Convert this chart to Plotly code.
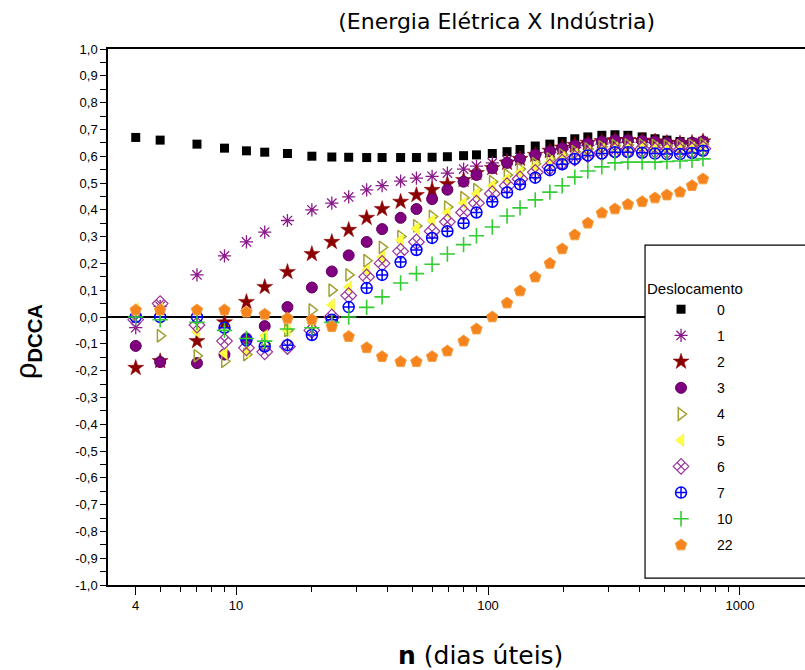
import plotly.graph_objects as go

n_values = [4, 5, 7, 9, 11, 13, 16, 20, 24, 28, 33, 38, 45, 52, 60, 69, 80, 90, 104, 119,
            134, 154, 176, 197, 221, 249, 283, 319, 359, 409, 460, 513, 578, 645, 713]

shift_labels = ["0", "1", "2", "3", "4", "5", "6", "7", "10", "22"]

rho_0 = [0.67, 0.66, 0.645, 0.63, 0.62, 0.615, 0.61, 0.60, 0.597, 0.596, 0.595, 0.595, 0.595, 0.595,
         0.596, 0.598, 0.602, 0.605, 0.61, 0.617, 0.625, 0.638, 0.645, 0.655, 0.665, 0.672, 0.678,
         0.68, 0.678, 0.672, 0.665, 0.66, 0.655, 0.652, 0.655]
rho_1 = [-0.04, 0.04, 0.157, 0.228, 0.28, 0.317, 0.36, 0.40, 0.425, 0.448, 0.474, 0.49, 0.507, 0.518,
         0.525, 0.537, 0.552, 0.563, 0.575, 0.585, 0.595, 0.605, 0.615, 0.625, 0.632, 0.64, 0.645,
         0.65, 0.652, 0.652, 0.65, 0.648, 0.648, 0.65, 0.655]
rho_2 = [-0.19, -0.165, -0.09, -0.02, 0.056, 0.112, 0.168, 0.235, 0.28, 0.325, 0.37, 0.403, 0.43, 0.455,
         0.474, 0.496, 0.511, 0.537, 0.556, 0.575, 0.59, 0.605, 0.62, 0.632, 0.642, 0.65, 0.656,
         0.66, 0.66, 0.658, 0.655, 0.65, 0.648, 0.65, 0.655]
rho_3 = [-0.108, -0.168, -0.172, -0.14, -0.08, -0.034, 0.037, 0.11, 0.17, 0.23, 0.28, 0.328, 0.37, 0.403,
         0.44, 0.475, 0.505, 0.53, 0.555, 0.575, 0.59, 0.605, 0.618, 0.63, 0.64, 0.648, 0.655,
         0.66, 0.66, 0.658, 0.655, 0.65, 0.648, 0.65, 0.655]
rho_4 = [0.01, -0.07, -0.145, -0.165, -0.14, -0.1, -0.05, 0.026, 0.1, 0.157, 0.21, 0.26, 0.30, 0.34,
         0.375, 0.41, 0.445, 0.475, 0.505, 0.53, 0.552, 0.572, 0.59, 0.605, 0.617, 0.627, 0.635,
         0.64, 0.642, 0.642, 0.64, 0.638, 0.638, 0.64, 0.645]
rho_5 = [0.03, 0.03, -0.055, -0.135, -0.13, -0.07, -0.05, -0.02, 0.045, 0.112, 0.175, 0.224, 0.287, 0.33,
         0.36, 0.39, 0.425, 0.46, 0.49, 0.515, 0.54, 0.562, 0.58, 0.595, 0.607, 0.617, 0.625,
         0.63, 0.632, 0.632, 0.63, 0.628, 0.628, 0.63, 0.635]
rho_6 = [-0.01, 0.05, -0.03, -0.09, -0.115, -0.13, -0.11, -0.05, 0.0, 0.08, 0.15, 0.2, 0.245, 0.28,
         0.32, 0.355, 0.39, 0.425, 0.46, 0.49, 0.515, 0.54, 0.56, 0.578, 0.593, 0.605, 0.613,
         0.62, 0.623, 0.625, 0.622, 0.62, 0.62, 0.622, 0.628]
rho_7 = [0.0, 0.0, 0.0, -0.04, -0.086, -0.11, -0.105, -0.067, -0.01, 0.037, 0.108, 0.157, 0.205, 0.25,
         0.295, 0.32, 0.35, 0.39, 0.43, 0.465, 0.495, 0.52, 0.548, 0.57, 0.59, 0.603, 0.61,
         0.615, 0.615, 0.613, 0.61, 0.608, 0.608, 0.612, 0.62]
rho_10 = [0.0, -0.01, -0.02, -0.05, -0.08, -0.09, -0.045, -0.04, -0.02, 0.0, 0.036, 0.075, 0.127, 0.162,
          0.197, 0.235, 0.27, 0.303, 0.336, 0.377, 0.407, 0.437, 0.466, 0.49, 0.522, 0.545, 0.56,
          0.575, 0.578, 0.578, 0.578, 0.58, 0.582, 0.585, 0.59]
rho_22 = [0.026, 0.026, 0.026, 0.026, 0.018, 0.01, -0.005, -0.01, -0.036, -0.073, -0.115, -0.148, -0.167,
          -0.167, -0.148, -0.127, -0.09, -0.045, 0.0, 0.052, 0.097, 0.149, 0.20, 0.254, 0.306, 0.35,
          0.388, 0.403, 0.42, 0.43, 0.444, 0.455, 0.466, 0.49, 0.515]

series = [rho_0, rho_1, rho_2, rho_3, rho_4, rho_5, rho_6, rho_7, rho_10, rho_22]

y_tick_vals = [1.0, 0.9, 0.8, 0.7, 0.6, 0.5, 0.4, 0.3, 0.2, 0.1, 0.0, -0.1, -0.2, -0.3, -0.4, -0.5,
               -0.6, -0.7, -0.8, -0.9, -1.0]
y_tick_text = ["1,0", "0,9", "0,8", "0,7", "0,6", "0,5", "0,4", "0,3", "0,2", "0,1", "0,0", "-0,1",
               "-0,2", "-0,3", "-0,4", "-0,5", "-0,6", "-0,7", "-0,8", "-0,9", "-1,0"]
x_tick_vals = [4, 10, 100, 1000]
x_tick_text = ["4", "10", "100", "1000"]

title_text = "(Energia Elétrica X Indústria)"
x_title_text = "<b>n</b> (dias úteis)"
y_title_text = "ρ<sub><b>DCCA</b></sub>"
legend_title_text = "Deslocamento"

styles = [
    dict(symbol="square", color="#000000", line=dict(width=0), size=9),
    dict(symbol="asterisk-open", color="#8B1A8B", line=dict(width=1.3, color="#8B1A8B"), size=11),
    dict(symbol="star", color="#8B0000", line=dict(width=0.5, color="#8B0000"), size=12),
    dict(symbol="circle", color="#800080", line=dict(width=1, color="#600060"), size=11),
    dict(symbol="triangle-right-open", color="#A0A030", line=dict(width=1.5, color="#A0A030"), size=11),
    dict(symbol="triangle-left", color="#FFFF40", line=dict(width=0.5, color="#E8E840"), size=11),
    dict(symbol="diamond-x-open", color="#993399", line=dict(width=1.2, color="#993399"), size=12),
    dict(symbol="circle-cross-open", color="#0000FF", line=dict(width=1.5, color="#0000FF"), size=11),
    dict(symbol="cross-thin-open", color="#33CC33", line=dict(width=1.6, color="#33CC33"), size=11),
    dict(symbol="pentagon", color="#F5841F", line=dict(width=1, color="#F5A040"), size=12),
]

font_family = "Arial, Liberation Sans, sans-serif"
wide_family = "DejaVu Sans, Arial, sans-serif"

fig = go.Figure()
for i, (lab, vals, st) in enumerate(zip(shift_labels, series, styles)):
    fig.add_trace(go.Scatter(
        x=n_values, y=vals, mode="markers", name=lab, legendgroup=str(i),
        marker=dict(symbol=st["symbol"], color=st["color"], size=st["size"], line=st["line"]),
    ))

fig.update_layout(
    width=805, height=670,
    margin=dict(l=108, r=0, t=49, b=85),
    paper_bgcolor="white", plot_bgcolor="white",
    font=dict(family=font_family, color="#000000", size=13),
    title=dict(text=title_text, x=0.617, xref="container", xanchor="center",
               y=0.968, yref="container", yanchor="middle",
               font=dict(size=22, family=wide_family, color="#000000")),
    showlegend=True,
    legend=dict(
        x=0.7705, y=0.580, xanchor="left", yanchor="top",
        bgcolor="rgba(0,0,0,0)", borderwidth=0,
        font=dict(size=14, family=font_family, color="#000000"),
        title=dict(text=legend_title_text, font=dict(size=15, family=font_family, color="#000000")),
        tracegroupgap=5, itemsizing="trace", itemwidth=62,
    ),
    shapes=[dict(type="rect", xref="paper", yref="paper", x0=0.7705, x1=1.05, y0=0.013, y1=0.634,
                 fillcolor="white", line=dict(color="#000000", width=1.2), layer="above")],
    annotations=[
        dict(text=x_title_text, xref="paper", yref="paper", x=0.534, y=-0.1306,
             xanchor="center", yanchor="middle", showarrow=False,
             font=dict(size=25, family=wide_family, color="#000000")),
        dict(text=y_title_text, xref="paper", yref="paper", x=-0.1148, y=0.455,
             xanchor="center", yanchor="middle", showarrow=False, textangle=-90,
             font=dict(size=29, family=font_family, color="#000000")),
    ],
)

minor_x = []
for dec in [1, 10, 100, 1000]:
    for k in range(2, 10):
        v = k * dec
        if v not in x_tick_vals and 3 <= v <= 1800:
            minor_x.append(v)

fig.update_xaxes(
    type="log", range=[0.492, 3.258],
    tickmode="array", tickvals=x_tick_vals, ticktext=x_tick_text,
    ticks="outside", ticklen=8, tickwidth=1.3, tickcolor="#000000",
    minor=dict(tickmode="array", tickvals=minor_x, ticks="outside", ticklen=5, tickwidth=1.2,
               tickcolor="#000000", showgrid=False),
    showline=True, linecolor="#000000", linewidth=1.5, mirror=True,
    showgrid=False, zeroline=False,
    tickfont=dict(size=13, family=font_family, color="#000000"),
)
fig.update_yaxes(
    range=[-1.0, 1.0],
    tickmode="array", tickvals=y_tick_vals, ticktext=y_tick_text,
    ticks="outside", ticklen=6, tickwidth=1.2, tickcolor="#000000",
    minor=dict(tickmode="array", tickvals=[round(-0.95 + 0.1 * k, 2) for k in range(20)],
               ticks="outside", ticklen=6, tickwidth=1.2, tickcolor="#000000", showgrid=False),
    showline=True, linecolor="#000000", linewidth=1.5, mirror=False,
    showgrid=False, zeroline=True, zerolinecolor="#000000", zerolinewidth=1.5,
    tickfont=dict(size=13, family=font_family, color="#000000"),
)

fig.write_html("out.html")
